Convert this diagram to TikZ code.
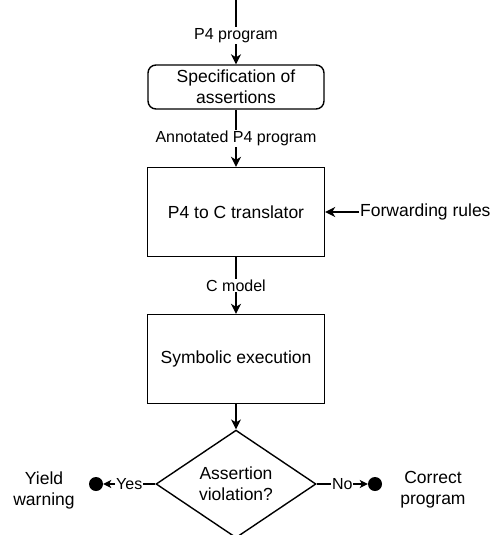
\documentclass[tikz,border=0pt]{standalone}
\usepackage{fontspec}
\setmainfont{Liberation Sans}
\usetikzlibrary{shapes.geometric,arrows.meta}
\pgfdeclarelayer{nodelayer}
\pgfdeclarelayer{edgelayer}
\pgfsetlayers{edgelayer,nodelayer,main}
\tikzstyle{round box}=[draw=black, line width=1.4pt, fill=white, rounded corners=8pt, minimum width=176pt, minimum height=44pt, align=center, font=\fontsize{17.5}{21}\selectfont]
\tikzstyle{box}=[draw=black, line width=1.4pt, fill=white, minimum width=177pt, minimum height=89pt, align=center, font=\fontsize{17.5}{21}\selectfont]
\tikzstyle{decision}=[draw=black, line width=1.4pt, fill=white, shape=diamond, minimum width=160pt, minimum height=102pt, inner sep=0pt, align=center, font=\fontsize{17.5}{21}\selectfont]
\tikzstyle{end}=[fill=black, shape=circle, minimum size=14pt, inner sep=0pt]
\tikzstyle{plain}=[align=center, inner sep=1pt, font=\fontsize{17.5}{21}\selectfont]
\tikzstyle{edge label}=[fill=white, inner sep=1pt, font=\fontsize{16}{19}\selectfont]
\tikzstyle{directed edge}=[line width=1.4pt, -{Stealth[length=10pt,width=10pt,inset=3pt]}]
\tikzstyle{short edge}=[line width=1.4pt, -{Stealth[length=8pt,width=8pt,inset=2pt]}]

\begin{document}
\begin{tikzpicture}[x=1pt, y=-1pt]
    	\useasboundingbox (0, 0) rectangle (498, 535);
    	\begin{pgfonlayer}{nodelayer}
    		\coordinate (0) at (236, 0);
    		\node [style=round box] (1) at (236, 87) {Specification of\\assertions};
    		\node [style=box] (2) at (236, 212) {P4 to C translator};
    		\node [style=plain, anchor=west] (3) at (359, 212) {Forwarding rules};
    		\node [style=box] (4) at (236, 359) {Symbolic execution};
    		\node [style=decision] (5) at (236, 484) {Assertion\\violation?};
    		\node [style=end] (6) at (96, 484) {};
    		\node [style=end] (7) at (375, 484) {};
    		\node [style=plain] (8) at (44, 490) {Yield\\warning};
    		\node [style=plain] (9) at (433, 490) {Correct\\program};
    	\end{pgfonlayer}
    	\begin{pgfonlayer}{edgelayer}
    		\draw [style=directed edge] (0) to node [style=edge label, pos=0.55] {P4 program} (1);
    		\draw [style=directed edge] (1) to node [style=edge label] {Annotated P4 program} (2);
    		\draw [style=directed edge] (3) to (2);
    		\draw [style=directed edge] (2) to node [style=edge label] {C model} (4);
    		\draw [style=directed edge] (4) to (5);
    		\draw [style=short edge] (5) to node [style=edge label] {Yes} (6);
    		\draw [style=short edge] (5) to node [style=edge label] {No} (7);
    	\end{pgfonlayer}
    \end{tikzpicture}
\end{document}
